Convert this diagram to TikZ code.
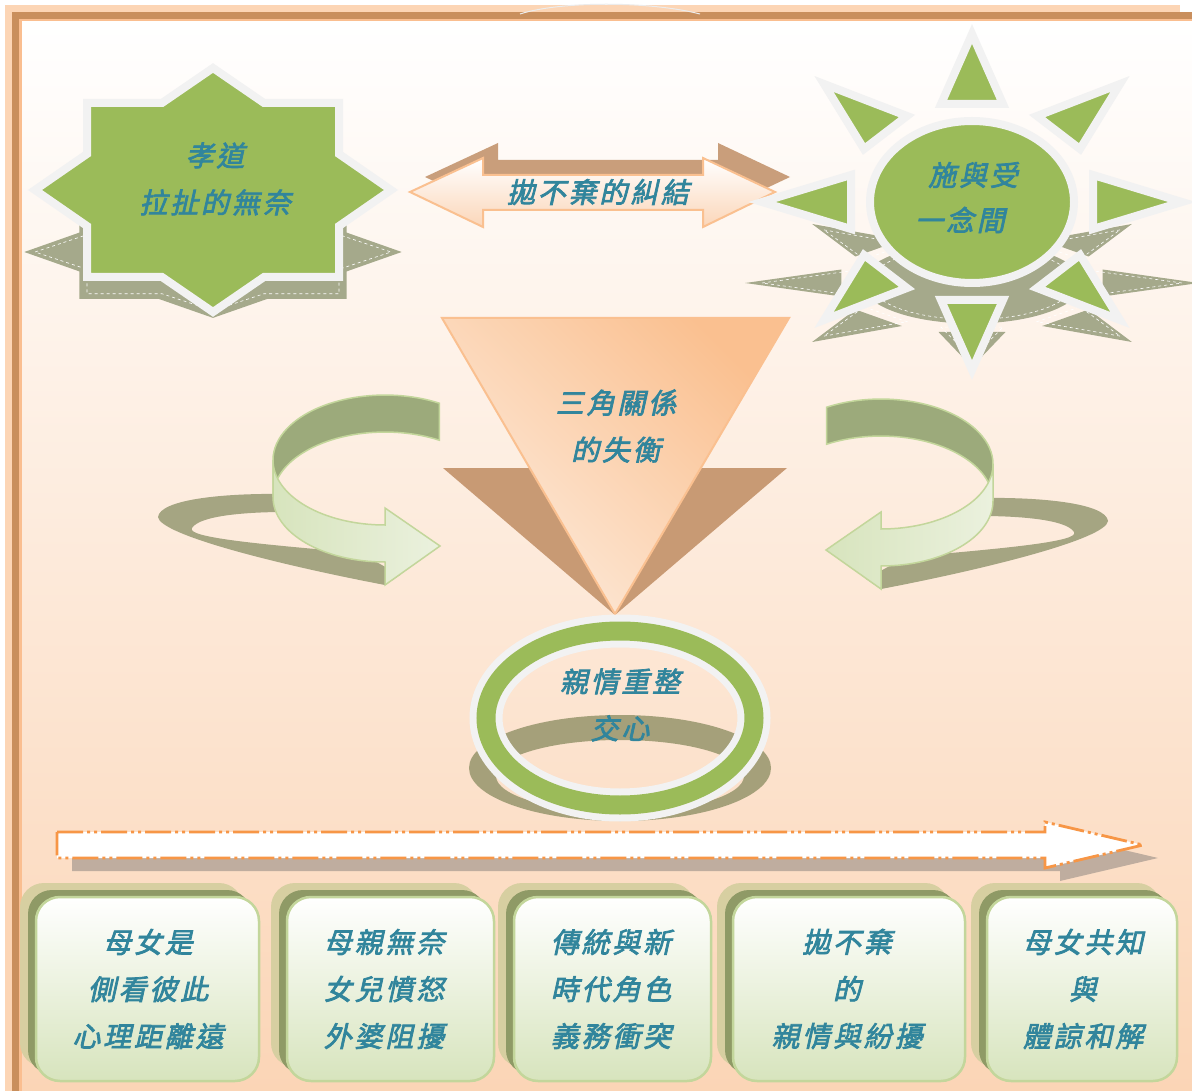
\documentclass[tikz,border=0pt]{standalone}
\usepackage{fontspec}
\newfontfamily\cjk[FakeSlant=0.22,FakeBold=2.6,LetterSpace=10]{Noto Sans CJK TC}
\definecolor{peach}{RGB}{252,213,181}
\definecolor{framebrown}{RGB}{201,143,93}
\definecolor{framelight}{RGB}{250,190,144}
\definecolor{bgbot}{RGB}{251,213,182}
\definecolor{sgreen}{RGB}{155,187,89}
\definecolor{wborder}{RGB}{242,242,242}
\definecolor{shgreen}{RGB}{165,169,139}
\definecolor{tblue}{RGB}{49,133,156}
\definecolor{arrbrown}{RGB}{201,158,123}
\definecolor{arredge}{RGB}{250,192,144}
\definecolor{arrbot}{RGB}{251,214,185}
\definecolor{tribrown}{RGB}{200,154,116}
\definecolor{trilight}{RGB}{253,234,218}
\definecolor{cdark}{RGB}{156,170,123}
\definecolor{cedge}{RGB}{195,214,155}
\definecolor{cfrontA}{RGB}{215,228,189}
\definecolor{cfrontB}{RGB}{235,241,222}
\definecolor{cshadow}{RGB}{165,165,130}
\definecolor{rshadow}{RGB}{165,160,122}
\definecolor{aorange}{RGB}{247,150,70}
\definecolor{ashadow}{RGB}{191,173,159}
\definecolor{boxbot}{RGB}{215,228,189}
\definecolor{boxolive}{RGB}{143,154,102}
\definecolor{boxtan}{RGB}{215,207,161}
\tikzset{
  txt/.style={font=\cjk\fontsize{28}{47}\selectfont, text=tblue, align=center, inner sep=0pt},
  starshape/.pic={
    \path[pic actions] (0,-122) -- (51,-87) -- (126,-87) -- (126,-36) -- (178,0) -- (126,36) -- (126,87) -- (51,87) -- (0,122) -- (-51,87) -- (-126,87) -- (-126,36) -- (-178,0) -- (-126,-36) -- (-126,-87) -- (-51,-87) -- cycle;
  },
  sunspikes/.pic={
    \path[pic actions] (0,-168) -- (-31,-98) -- (31,-98) -- cycle;
    \path[pic actions] (0,168) -- (-31,98) -- (31,98) -- cycle;
    \path[pic actions] (-210,0) -- (-121,-27) -- (-121,27) -- cycle;
    \path[pic actions] (210,0) -- (121,-27) -- (121,27) -- cycle;
    \path[pic actions] (-148,-118) -- (-65,-86) -- (-108,-53) -- cycle;
    \path[pic actions] (148,-118) -- (65,-86) -- (108,-53) -- cycle;
    \path[pic actions] (-148,118) -- (-65,86) -- (-108,53) -- cycle;
    \path[pic actions] (148,118) -- (65,86) -- (108,53) -- cycle;
  },
  sunbody/.pic={
    \path[pic actions] (0,0) ellipse[x radius=102, y radius=81];
  },
  boxmain/.style={rounded corners=24pt, draw=cedge, line width=2.5pt, top color=white, bottom color=boxbot},
}
\newcommand\drawcurvedarrow{%
  \fill[cshadow] (285,494) .. controls (220,493) and (160,500) .. (158,517) .. controls (160,535) and (280,565) .. (385,585) -- (400,575) -- (360,553) .. controls (270,545) and (185,538) .. (192,528) .. controls (200,515) and (250,512) .. (285,512) -- cycle;
  \filldraw[fill=cdark, draw=cedge, line width=1.5pt] (439.3,403.2) arc[start angle=-61, end angle=-180, x radius=112, y radius=65] -- ++(0,37) arc[start angle=-180, end angle=-61, x radius=112, y radius=65] -- cycle;
  \filldraw[left color=cfrontA, right color=cfrontB, draw=cedge, line width=1.5pt] (273,460) arc[start angle=-180, end angle=-270, x radius=112, y radius=65] -- (385,508) -- (440,546) -- (385,585) -- (385,562) arc[start angle=-270, end angle=-180, x radius=112, y radius=65] -- cycle;
}
\begin{document}
\begin{tikzpicture}[x=1pt, y={(0pt,-1pt)}]
\useasboundingbox (0,0) rectangle (1192,1091);
\clip (0,0) rectangle (1192,1091);
% frame and background
\fill[white] (0,0) rectangle (1192,1091);
\fill[peach] (5,5) rectangle (1180,1091);
\fill[framebrown] (12,12) rectangle (1192,1091);
\fill[framelight] (19,19) rectangle (1192,1091);
\shade[top color=white, bottom color=bgbot] (22,22) rectangle (1192,1091);
\draw[gray!15, line width=1pt] (520,14) .. controls (560,1) and (650,1) .. (700,14);

% left star
\pic[fill=shgreen, xscale=1.06, yscale=0.54] at (213,252) {starshape};
\pic[draw=white, dashed, line width=0.6pt, xscale=1.0, yscale=0.48] at (213,252) {starshape};
\pic[fill=sgreen, draw=wborder, line width=8pt] at (213,190) {starshape};
\node[txt] (starText) at (215,179) {孝道\\拉扯的無奈};

% double arrow
\fill[arrbrown] (425,177) -- (498,143) -- (498,160) -- (718,160) -- (718,143) -- (790,177) -- (718,211) -- (718,195) -- (498,195) -- (498,211) -- cycle;
\filldraw[top color=white, bottom color=arrbot, draw=arredge, line width=2pt] (410,192) -- (483,158) -- (483,175) -- (703,175) -- (703,158) -- (775,192) -- (703,227) -- (703,210) -- (483,210) -- (483,227) -- cycle;
\node[txt] (arrText) at (598,192) {拋不棄的糾結};

% sun
\pic[fill=shgreen, xscale=1.08, yscale=0.5] at (972,283) {sunspikes};
\pic[fill=shgreen, xscale=1.08, yscale=0.5] at (972,283) {sunbody};
\pic[draw=white, dashed, line width=0.6pt, xscale=1.0, yscale=0.45] at (972,283) {sunspikes};
\pic[draw=white, dashed, line width=0.6pt, xscale=1.0, yscale=0.45] at (972,283) {sunbody};
\pic[fill=sgreen, draw=wborder, line width=8pt, line join=miter] at (972,202) {sunspikes};
\pic[fill=sgreen, draw=wborder, line width=8pt] at (972,202) {sunbody};
\node[txt] (sunTextA) at (973,175) {施與受};
\node[txt] (sunTextB) at (960,220) {一念間};

% triangle
\fill[tribrown] (443,468) -- (787,468) -- (615,615) -- cycle;
\filldraw[shading=axis, top color=arredge, bottom color=trilight, shading angle=-45, draw=arredge, line width=2pt] (442,318) -- (789,318) -- (615,614) -- cycle;
\node[txt] (triText) at (616,426) {三角關係\\的失衡};

% curved arrows
\drawcurvedarrow
\begin{scope}[shift={(1266,4)}, xscale=-1]
\drawcurvedarrow
\end{scope}

% ring
\fill[rshadow, even odd rule] (620,768) ellipse[x radius=151, y radius=53] (620,776) ellipse[x radius=124, y radius=36];
\draw[wborder, line width=33pt] (620,718) ellipse[x radius=134, y radius=87];
\draw[sgreen, line width=19pt] (620,718) ellipse[x radius=134, y radius=87];
\node[txt] (ringText) at (620,705) {親情重整\\交心};

% dashed arrow
\fill[ashadow] (72,845) -- (1060,845) -- (1060,835) -- (1158,858) -- (1060,881) -- (1060,871) -- (72,871) -- cycle;
\filldraw[fill=white, draw=aorange, line width=2.8pt, dash pattern=on 26pt off 4pt on 3pt off 4pt on 3pt off 4pt] (57,832) -- (1045,832) -- (1045,822) -- (1143,845) -- (1045,868) -- (1045,858) -- (57,858) -- cycle;

% boxes
\foreach \xa/\xb in {36/259, 287/494, 514/711, 733/965, 987/1177} {
  \fill[boxtan, rounded corners=24pt] (\xa-16,883) rectangle (\xb-16,1067);
  \fill[boxolive, rounded corners=24pt] (\xa-8,890) rectangle (\xb-8,1074);
  \filldraw[boxmain] (\xa,897) rectangle (\xb,1081);
}
\node[txt] (boxA) at (148,989) {母女是\\側看彼此\\心理距離遠};
\node[txt] (boxB) at (384,989) {母親無奈\\女兒憤怒\\外婆阻擾};
\node[txt] (boxC) at (611,989) {傳統與新\\時代角色\\義務衝突};
\node[txt] (boxD) at (847,989) {拋不棄\\的\\親情與紛擾};
\node[txt] (boxE) at (1083,989) {母女共知\\與\\體諒和解};
\end{tikzpicture}
\end{document}
